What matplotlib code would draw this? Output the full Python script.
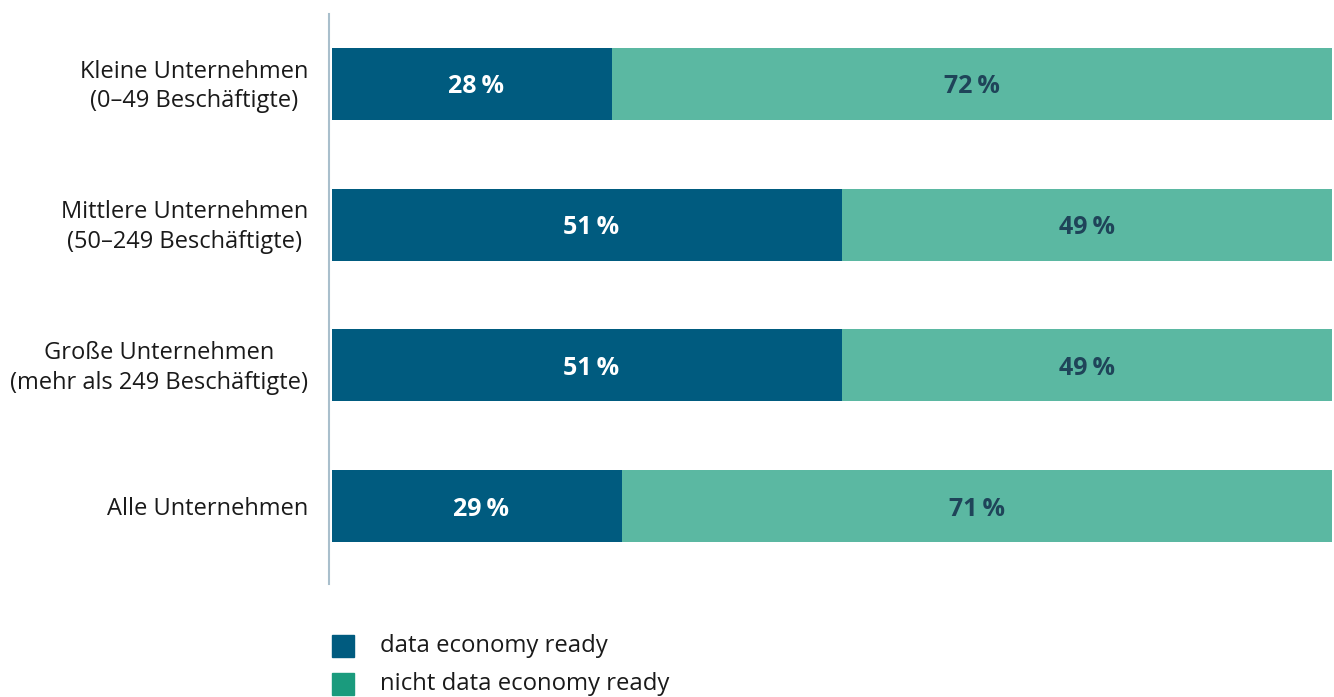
import matplotlib
matplotlib.use("Agg")
import matplotlib.pyplot as plt
import matplotlib.transforms as mtransforms
from matplotlib.patches import Rectangle

categories = ["Kleine Unternehmen\n(0–49 Beschäftigte)",
              "Mittlere Unternehmen\n(50–249 Beschäftigte)",
              "Große Unternehmen\n(mehr als 249 Beschäftigte)",
              "Alle Unternehmen"]
ready = [28, 51, 51, 29]
not_ready = [72, 49, 49, 71]
series_names = ["data economy ready", "nicht data economy ready"]

plt.rcParams['font.family'] = ['Open Sans', 'DejaVu Sans']

fig = plt.figure(figsize=(13.34, 6.97), dpi=100)
W, H = 1334, 697
ax = fig.add_axes([332 / W, 1 - 584 / H, 1000 / W, 570 / H])

c_dark = "#005b7f"
c_teal = "#5bb8a2"
c_leg_teal = "#1a9b7d"

y = list(range(len(categories)))
ax.barh(y, ready, height=0.512, color=c_dark)
ax.barh(y, not_ready, left=ready, height=0.512, color=c_teal)

for i in y:
    ax.text(ready[i] / 2 + 0.4, i, f"{ready[i]}\u2009%", ha="center", va="center_baseline",
            color="white", fontsize=18, fontweight="bold")
    ax.text(ready[i] + not_ready[i] / 2, i, f"{not_ready[i]}\u2009%", ha="center",
            va="center_baseline", color="#1f4459", fontsize=18, fontweight="bold")

ax.set_xlim(0, 100)
ax.set_ylim(3.554, -0.4975)
ax.set_yticks(y)
ax.set_yticklabels([])
ax.tick_params(axis="y", length=0)
ax.set_xticks([])

label_tr = ax.get_yaxis_transform() + mtransforms.ScaledTranslation(-0.24, -0.025, fig.dpi_scale_trans)
for i, cat in enumerate(categories):
    ax.text(0, i, cat, transform=label_tr, ha="right", va="center",
            multialignment="center", fontsize=17, color="#1a1a1a", linespacing=1.3)

for s in ["top", "right", "bottom"]:
    ax.spines[s].set_visible(False)
ax.spines["left"].set_color("#a9bfcc")
ax.spines["left"].set_linewidth(1.5)
ax.spines["left"].set_position(("outward", 2))

# legend
for k, (name, col) in enumerate(zip(series_names, [c_dark, c_leg_teal])):
    y0 = 635 + k * 38
    fig.patches.append(Rectangle((332 / W, 1 - (y0 + 22) / H), 22 / W, 22 / H,
                                 transform=fig.transFigure, color=col))
    fig.text(380 / W, 1 - (y0 + 11) / H, name, ha="left", va="center",
             fontsize=17.2, color="#1a1a1a")

fig.savefig("out.png", dpi=100)
